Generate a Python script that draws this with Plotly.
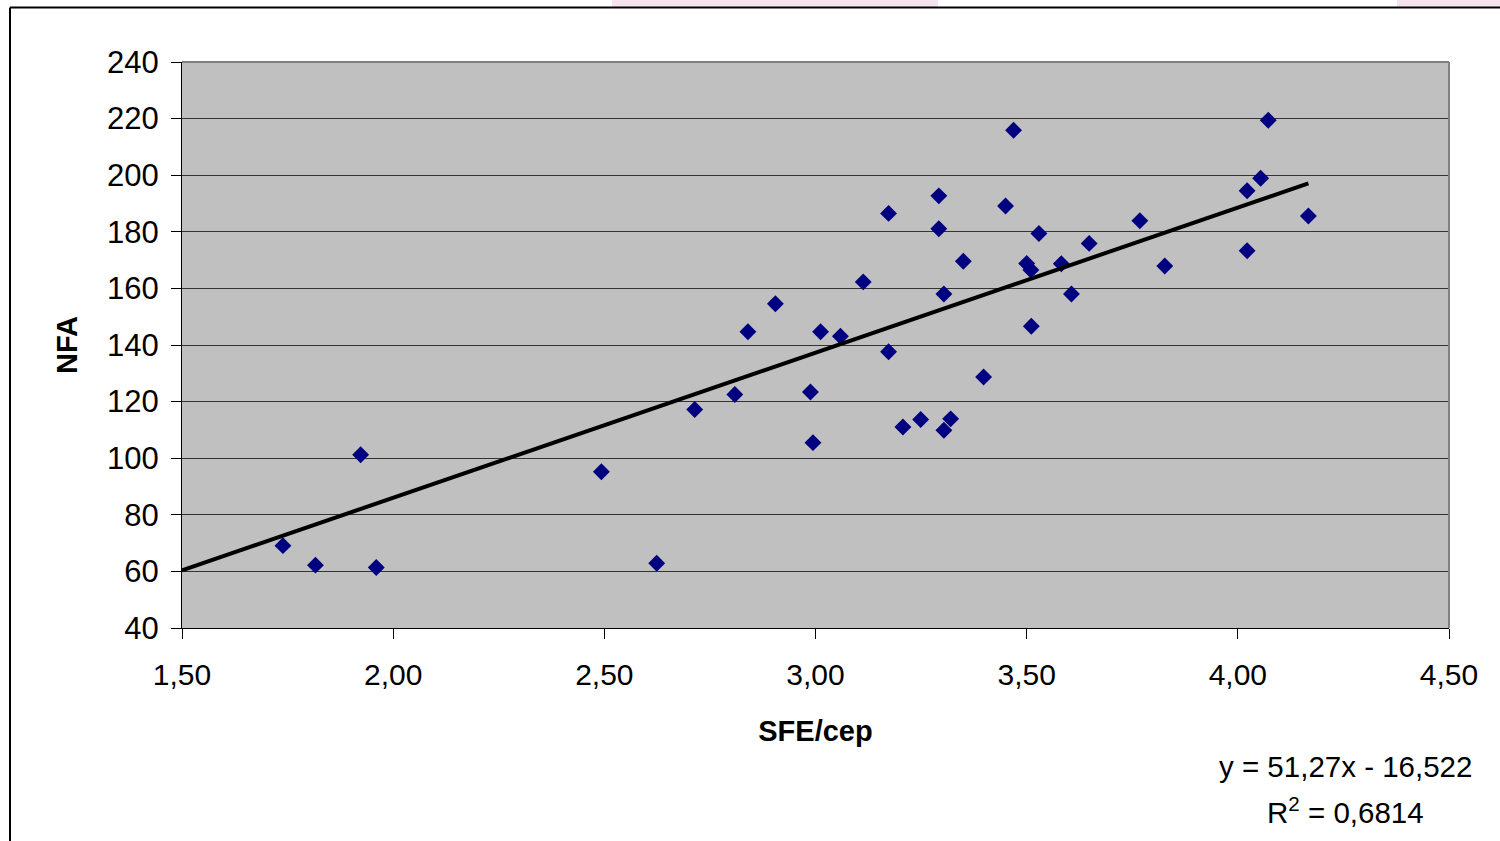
import plotly.graph_objects as go

# Data
sfe_cep = [1.739, 1.816, 1.923, 1.960, 2.493, 2.624, 2.714, 2.809, 2.840, 2.905,
           2.988, 2.994, 3.012, 3.059, 3.113, 3.173, 3.173, 3.207, 3.249, 3.292,
           3.292, 3.304, 3.304, 3.320, 3.350, 3.398, 3.450, 3.469, 3.500, 3.510,
           3.511, 3.529, 3.582, 3.606, 3.648, 3.768, 3.827, 4.022, 4.022, 4.054,
           4.072, 4.167]
nfa = [69.1, 62.2, 101.2, 61.4, 95.2, 62.9, 117.2, 122.5, 144.7, 154.6,
       123.4, 105.5, 144.7, 143.1, 162.3, 186.5, 137.6, 111.0, 113.7, 192.7,
       181.1, 158.0, 109.9, 113.9, 169.6, 128.7, 189.1, 215.9, 168.8, 166.5,
       146.6, 179.4, 168.7, 158.0, 175.9, 183.9, 167.9, 194.5, 173.3, 198.9,
       219.4, 185.6]

slope = 51.27
intercept = -16.522
trend_x_start = 1.5

x_ticks = [1.5, 2.0, 2.5, 3.0, 3.5, 4.0, 4.5]
x_tick_labels = ["1,50", "2,00", "2,50", "3,00", "3,50", "4,00", "4,50"]
y_ticks = [40, 60, 80, 100, 120, 140, 160, 180, 200, 220, 240]

trend_x = [trend_x_start, max(sfe_cep)]
trend_y = [slope * v + intercept for v in trend_x]

FONT = "Liberation Sans, Arial, sans-serif"

fig = go.Figure()
fig.add_trace(go.Scatter(
    x=sfe_cep, y=nfa, mode="markers",
    marker=dict(symbol="diamond", size=13, color="#000080", line=dict(width=0)),
    showlegend=False, hoverinfo="x+y"))
fig.add_trace(go.Scatter(
    x=trend_x, y=trend_y, mode="lines",
    line=dict(color="black", width=4), showlegend=False))

fig.update_layout(
    width=1500, height=841,
    margin=dict(l=182, r=51, t=62, b=213, autoexpand=False),
    paper_bgcolor="white", plot_bgcolor="#c0c0c0",
    font=dict(family=FONT, size=28, color="black"),
    xaxis=dict(range=[1.5, 4.5], tickvals=x_ticks, ticktext=x_tick_labels,
               showgrid=False, zeroline=False, showline=True, linecolor="black",
               linewidth=1, ticks="outside", ticklen=10, tickcolor="black",
               tickfont=dict(size=30), ticklabelstandoff=10,
               title=dict(text="<b>SFE/cep</b>", font=dict(size=29), standoff=30)),
    yaxis=dict(range=[40, 240], tickvals=y_ticks, showgrid=True,
               gridcolor="#333333", gridwidth=1, zeroline=False, showline=True,
               linecolor="black", linewidth=1, ticks="outside", ticklen=10,
               tickcolor="black", tickfont=dict(size=31), ticklabelstandoff=6,
               title=dict(text="<b>NFA</b>", font=dict(size=29), standoff=20)),
)

# plot area border (top/right gray)
fig.add_shape(type="line", xref="paper", yref="paper", x0=0, x1=1, y0=1, y1=1,
              line=dict(color="#808080", width=2))
fig.add_shape(type="line", xref="paper", yref="paper", x0=1, x1=1, y0=0, y1=1,
              line=dict(color="#808080", width=2))

# faint pink background artifacts at the top
for xa, xb in [(612, 938), (1397, 1500)]:
    fig.add_shape(type="rect", xref="paper", yref="paper",
                  x0=(xa - 182) / 1267, x1=(xb - 182) / 1267,
                  y0=(628 - 7) / 566, y1=(628 + 10) / 566 + 1,
                  line=dict(width=0), fillcolor="#f5e4ee", layer="below")

# outer chart frame
fig.add_shape(type="line", xref="paper", yref="paper",
              x0=(10 - 182) / 1267, x1=(1510 - 182) / 1267,
              y0=(628 - 7.5) / 566, y1=(628 - 7.5) / 566,
              line=dict(color="black", width=2))
fig.add_shape(type="line", xref="paper", yref="paper",
              x0=(10 - 182) / 1267, x1=(10 - 182) / 1267,
              y0=(628 - 7.5) / 566, y1=(628 - 860) / 566,
              line=dict(color="black", width=2))

# trendline equation
fig.add_annotation(xref="paper", yref="paper", x=(1345 - 182) / 1267,
                   y=(628 - 766) / 566, text="y = 51,27x - 16,522",
                   showarrow=False, font=dict(size=29.5), xanchor="center",
                   yanchor="middle")
fig.add_annotation(xref="paper", yref="paper", x=(1345 - 182) / 1267,
                   y=(628 - 810) / 566, text="R<sup>2</sup> = 0,6814",
                   showarrow=False, font=dict(size=29.5), xanchor="center",
                   yanchor="middle")

fig.write_html("out.html")
